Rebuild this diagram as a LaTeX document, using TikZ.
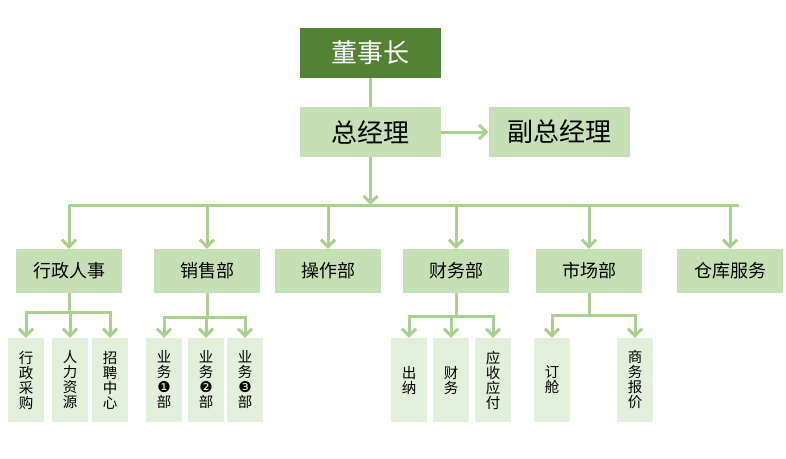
\documentclass[tikz,border=0pt]{standalone}
\usepackage{fontspec}
\newfontfamily\cjk{Noto Sans CJK SC}
\newfontfamily\sym{DejaVu Sans}
\usetikzlibrary{arrows.meta}
\definecolor{darkgreen}{HTML}{548235}
\definecolor{midgreen}{HTML}{C5E0B4}
\definecolor{palegreen}{HTML}{E2EFDA}
\definecolor{linegreen}{HTML}{A9D18E}
\newcommand{\circnum}[1]{{\sym\fontsize{15}{14}\selectfont #1}}

\begin{document}
\begin{tikzpicture}[x=1pt,y=-1pt,
        bossbox/.style={fill=darkgreen,text=white,minimum width=141pt,minimum height=50pt,inner sep=0pt,font=\cjk\fontsize{26}{28}\selectfont},
        mgrbox/.style={fill=midgreen,minimum width=141pt,minimum height=50pt,inner sep=0pt,font=\cjk\fontsize{26}{28}\selectfont},
        deptbox/.style={fill=midgreen,minimum width=106pt,minimum height=44pt,inner sep=0pt,font=\cjk\fontsize{18}{20}\selectfont},
        subbox/.style={fill=palegreen,minimum width=36pt,minimum height=84pt,inner sep=0pt,align=center,font=\cjk\fontsize{14.5}{15}\selectfont},
        link/.style={draw=linegreen,line width=3pt},
        arr/.style={link,-{Straight Barb[length=7pt,width=14pt]}}]
    \useasboundingbox (0,0) rectangle (786,458);

    \node[bossbox] (dsz) at (370.5,53) {董事长};
    \node[mgrbox] (zjl) at (370.5,132) {总经理};
    \node[mgrbox] (fzjl) at (559,132) {副总经理};

    \node[deptbox] (xzrs) at (69,271) {行政人事};
    \node[deptbox] (xsb) at (207,271) {销售部};
    \node[deptbox] (czb) at (328,271) {操作部};
    \node[deptbox] (cwb) at (456,271) {财务部};
    \node[deptbox] (scb) at (589,271) {市场部};
    \node[deptbox] (ckfw) at (730,271) {仓库服务};

    \node[subbox] (xzcg) at (26,380) {行\\政\\采\\购};
    \node[subbox] (rlzy) at (70,380) {人\\力\\资\\源};
    \node[subbox] (zpzx) at (110,380) {招\\聘\\中\\心};
    \node[subbox] (yw1) at (164,380) {业\\务\\\circnum{❶}\\部};
    \node[subbox] (yw2) at (206,380) {业\\务\\\circnum{❷}\\部};
    \node[subbox] (yw3) at (245,380) {业\\务\\\circnum{❸}\\部};
    \node[subbox] (cn) at (409,380) {出\\纳};
    \node[subbox] (cw) at (451,380) {财\\务};
    \node[subbox] (ysyf) at (493,380) {应\\收\\应\\付};
    \node[subbox] (dc) at (552,380) {订\\舱};
    \node[subbox] (swbj) at (635,380) {商\\务\\报\\价};

    \draw[link] (dsz) -- (zjl);
    \draw[arr] (zjl) -- (fzjl);
    \coordinate (bus) at (370.5,205);
    \draw[arr] (zjl) -- (bus);
    \draw[link] (bus) -- (739,205);
    \foreach \d in {xzrs,xsb,czb,cwb,scb,ckfw}
        \draw[arr] (bus) -| (\d.north);

    \draw[link] (xzrs) -- ++(0,41) coordinate (xzb);
    \foreach \s in {xzcg,rlzy,zpzx}
        \draw[arr] (xzb) -| (\s.north);
    \draw[link] (xsb) -- ++(0,46) coordinate (xsbb);
    \foreach \s in {yw1,yw2,yw3}
        \draw[arr] (xsbb) -| (\s.north);
    \draw[link] (cwb) -- ++(0,45) coordinate (cwbb);
    \foreach \s in {cn,cw,ysyf}
        \draw[arr] (cwbb) -| (\s.north);
    \draw[link] (scb) -- ++(0,44) coordinate (scbb);
    \foreach \s in {dc,swbj}
        \draw[arr] (scbb) -| (\s.north);
\end{tikzpicture}
\end{document}
